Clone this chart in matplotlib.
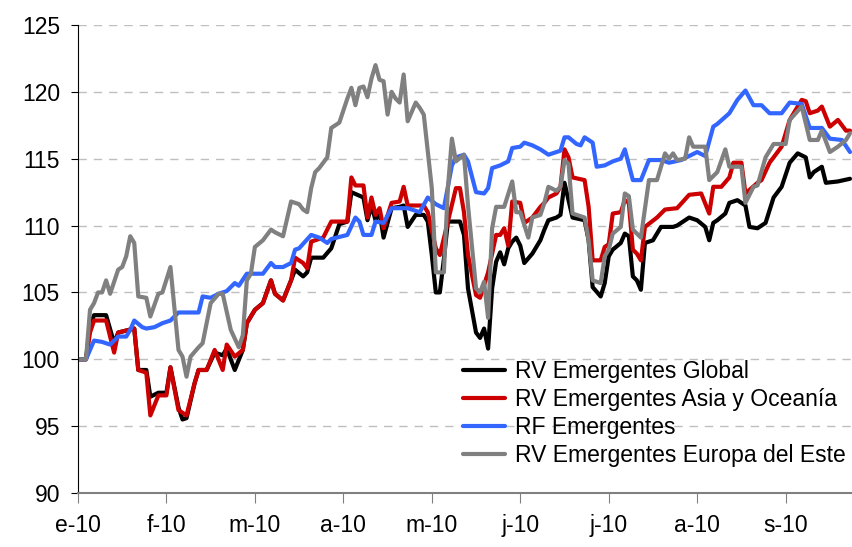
import matplotlib
matplotlib.use("Agg")
import matplotlib.pyplot as plt

plt.rcParams['font.family'] = ['Liberation Sans', 'DejaVu Sans']

# trading-day index (0 = start of January 2010) and index levels (base 100)
month_labels = ["e-10", "f-10", "m-10", "a-10", "m-10", "j-10", "j-10", "a-10", "s-10"]
days_per_month = 22

global_days = [0, 2, 3, 4, 7, 9, 10, 14, 15, 17, 18, 20, 22, 23, 25, 26, 27, 29, 30, 32, 34, 36, 37, 39, 41,
               42, 44, 46, 48, 49, 51, 53, 54, 56, 57, 58, 61, 63, 65, 67, 68, 71, 72, 73, 74, 75, 76, 78, 80,
               81, 82, 84, 85, 86, 87, 88, 89, 90, 91, 92, 95, 96, 97, 99, 100, 101, 102, 103, 104, 105, 106,
               107, 108, 109, 110, 111, 113, 115, 116, 117, 119, 120, 121, 122, 123, 126, 127, 128, 130, 131,
               132, 133, 135, 136, 137, 138, 139, 140, 141, 143, 145, 148, 149, 152, 154, 156, 157, 158, 159,
               161, 162, 164, 166, 167, 169, 171, 173, 175, 177, 179, 181, 182, 183, 185, 186, 189, 192]
global_vals = [100, 100, 102.5, 103.3, 103.3, 101.2, 102.0, 102.3, 99.2, 99.2, 97.2, 97.5, 97.5, 99.4, 96.4,
               95.5, 95.6, 98.2, 99.2, 99.2, 100.5, 100.3, 100.8, 99.2, 100.7, 102.7, 103.7, 104.2, 105.9,
               104.9, 104.4, 105.9, 106.7, 106.2, 106.5, 107.6, 107.6, 108.3, 110.1, 110.3, 112.5, 112.1,
               110.4, 111.5, 110.4, 111.0, 109.1, 111.3, 111.4, 111.5, 109.9, 110.8, 110.8, 110.8, 110.3,
               107.8, 105.0, 105.0, 107.5, 110.3, 110.3, 109.3, 105.3, 102.0, 101.6, 102.3, 100.8, 105.3,
               107.3, 108.0, 107.1, 108.3, 108.8, 109.1, 108.5, 107.2, 107.9, 108.9, 109.7, 110.4, 110.6,
               110.8, 113.2, 111.9, 110.6, 110.4, 108.9, 105.4, 104.7, 105.7, 107.7, 108.2, 108.7, 109.4,
               109.2, 106.2, 105.9, 105.2, 108.7, 108.9, 109.9, 109.9, 110.0, 110.6, 110.4, 109.9, 108.9,
               110.2, 110.4, 110.9, 111.7, 111.9, 111.5, 109.9, 109.8, 110.2, 112.1, 112.9, 114.7, 115.4,
               115.1, 113.6, 114.0, 114.4, 113.2, 113.3, 113.5]

asia_days = [0, 2, 3, 4, 7, 9, 10, 14, 15, 17, 18, 20, 22, 23, 25, 27, 29, 30, 32, 34, 36, 37, 39, 41, 42,
             44, 46, 48, 49, 51, 53, 54, 56, 57, 58, 61, 63, 67, 68, 69, 71, 72, 73, 74, 75, 76, 78, 80, 81,
             82, 86, 87, 89, 90, 92, 94, 95, 96, 97, 99, 100, 102, 104, 105, 106, 107, 108, 110, 111, 113,
             115, 116, 117, 119, 120, 121, 122, 123, 126, 127, 128, 130, 131, 132, 133, 135, 136, 137, 138,
             139, 140, 141, 144, 146, 149, 152, 155, 157, 158, 160, 162, 163, 165, 166, 169, 170, 172, 175,
             177, 180, 181, 182, 184, 185, 187, 189, 191, 192]
asia_vals = [100, 100, 102.0, 102.9, 102.9, 100.5, 102.0, 102.3, 99.2, 99.0, 95.8, 97.3, 97.3, 99.4, 96.2,
             95.8, 98.2, 99.2, 99.2, 100.7, 99.2, 101.1, 100.2, 100.7, 102.7, 103.7, 104.2, 105.9, 104.9,
             104.4, 105.9, 107.6, 107.2, 106.8, 108.8, 109.1, 110.3, 110.3, 113.6, 113.0, 113.0, 110.6,
             112.1, 110.8, 111.3, 109.8, 111.7, 111.8, 112.9, 111.5, 111.5, 111.0, 108.3, 107.8, 110.3,
             112.8, 112.8, 111.0, 107.8, 104.8, 104.6, 106.5, 109.3, 109.3, 109.8, 108.5, 111.8, 111.7,
             110.2, 110.6, 111.4, 111.7, 112.1, 112.4, 112.9, 115.7, 115.1, 113.6, 113.4, 111.4, 107.4,
             107.4, 108.4, 108.6, 110.9, 111.0, 111.9, 111.7, 108.2, 107.9, 107.4, 109.9, 110.6, 111.2,
             111.3, 112.3, 112.4, 110.9, 112.9, 112.9, 113.6, 114.7, 114.7, 112.4, 113.2, 113.4, 114.7,
             115.9, 117.9, 119.4, 119.3, 118.4, 118.6, 118.9, 117.4, 117.9, 117.1, 117.1]

rf_days = [0, 2, 4, 6, 8, 10, 12, 13, 14, 16, 17, 19, 21, 23, 25, 28, 30, 31, 33, 35, 37, 39, 40, 42, 46,
           48, 49, 51, 53, 54, 55, 58, 60, 62, 63, 67, 69, 70, 71, 73, 74, 76, 78, 82, 85, 87, 89, 91, 93,
           94, 96, 97, 99, 101, 102, 103, 105, 107, 108, 110, 111, 113, 115, 117, 119, 120, 121, 122, 124,
           125, 126, 128, 129, 131, 133, 135, 136, 138, 140, 142, 145, 147, 150, 154, 156, 158, 159, 162,
           164, 166, 168, 170, 172, 175, 177, 180, 182, 185, 187, 190, 192]
rf_vals = [100, 100, 101.4, 101.3, 101.1, 101.7, 101.7, 102.2, 102.9, 102.4, 102.3, 102.4, 102.7, 102.9,
           103.5, 103.5, 103.5, 104.7, 104.6, 104.9, 105.1, 105.7, 105.5, 106.4, 106.4, 107.2, 106.9, 106.9,
           107.2, 108.2, 108.3, 109.3, 109.1, 108.7, 109.0, 109.3, 110.6, 110.3, 109.3, 109.3, 110.3, 110.2,
           111.3, 111.3, 111.0, 112.1, 111.6, 111.3, 114.5, 115.1, 115.3, 114.8, 112.5, 112.4, 112.8, 114.3,
           114.5, 114.8, 115.8, 115.9, 116.2, 116.0, 115.7, 115.3, 115.5, 115.6, 116.6, 116.6, 116.1, 116.0,
           116.6, 116.2, 114.4, 114.5, 114.8, 115.0, 115.7, 113.4, 113.4, 114.9, 114.9, 114.7, 114.9, 115.5,
           115.2, 117.4, 117.6, 118.4, 119.4, 120.1, 119.0, 119.0, 118.4, 118.4, 119.2, 119.1, 117.3, 117.3,
           116.5, 116.4, 115.5]

europe_days = [0, 2, 3, 4, 5, 6, 7, 8, 10, 11, 12, 13, 14, 15, 17, 18, 20, 21, 23, 25, 26, 27, 28, 30, 31,
               33, 35, 36, 38, 40, 41, 42, 43, 44, 46, 48, 49, 51, 53, 55, 56, 57, 58, 59, 60, 62, 63, 65,
               67, 68, 69, 70, 71, 72, 73, 74, 75, 76, 77, 78, 79, 80, 81, 82, 84, 85, 86, 88, 89, 91, 92,
               93, 94, 96, 97, 99, 100, 101, 102, 103, 104, 106, 108, 109, 110, 112, 113, 115, 116, 117, 119,
               120, 121, 122, 123, 126, 127, 128, 130, 131, 132, 133, 135, 136, 137, 138, 139, 140, 142, 144,
               146, 147, 148, 149, 151, 152, 153, 156, 157, 159, 161, 162, 165, 166, 168, 169, 171, 173, 176,
               177, 180, 182, 184, 185, 187, 189, 191, 192]
europe_vals = [100, 100, 103.7, 104.2, 105.0, 105.0, 105.9, 104.9, 106.7, 106.9, 107.7, 109.2, 108.7, 104.7,
               104.6, 103.2, 104.9, 105.0, 106.9, 100.7, 100.2, 98.7, 100.2, 100.9, 101.2, 104.2, 104.9,
               104.9, 102.2, 100.9, 101.8, 105.9, 106.4, 108.4, 108.9, 109.7, 109.5, 109.2, 111.8, 111.6,
               111.2, 111.0, 112.8, 114.0, 114.3, 115.1, 117.3, 117.7, 119.5, 120.3, 119.0, 120.3, 120.4,
               119.6, 121.0, 122.0, 120.9, 120.8, 118.3, 120.0, 119.5, 119.2, 121.3, 117.8, 119.2, 118.8,
               118.3, 112.8, 106.5, 106.5, 112.8, 116.5, 114.8, 115.3, 111.5, 105.3, 105.0, 105.8, 103.1,
               109.8, 111.4, 111.4, 113.3, 111.0, 111.0, 109.1, 110.6, 110.8, 111.7, 112.9, 112.6, 112.9,
               114.9, 114.6, 110.9, 110.6, 108.9, 105.9, 105.7, 107.7, 108.2, 109.4, 109.9, 112.4, 112.2,
               109.7, 109.4, 109.1, 113.4, 113.4, 115.4, 115.0, 115.4, 114.9, 115.0, 116.6, 115.9, 115.9,
               113.4, 114.0, 115.7, 114.4, 114.4, 111.7, 112.9, 113.0, 115.1, 116.1, 116.1, 117.9, 118.9,
               116.4, 116.4, 117.1, 115.5, 115.9, 116.4, 116.9]

fig = plt.figure(figsize=(8.52, 5.47), dpi=100)
ax = fig.add_axes([0.0915, 0.0987, 0.9085, 0.8556])

line_kw = dict(lw=3, solid_joinstyle='round', solid_capstyle='round')
ax.plot(global_days, global_vals, color='#000000', label='RV Emergentes Global', **line_kw)
ax.plot(asia_days, asia_vals, color='#CC0000', label='RV Emergentes Asia y Oceanía', **line_kw)
ax.plot(rf_days, rf_vals, color='#3366FF', label='RF Emergentes', **line_kw)
ax.plot(europe_days, europe_vals, color='#808080', label='RV Emergentes Europa del Este', **line_kw)

ax.set_ylim(90, 125)
ax.set_xlim(0, 192.5)
ax.set_yticks(range(90, 126, 5))
ax.set_xticks([i * days_per_month for i in range(len(month_labels))])
ax.set_xticklabels(month_labels)

for v in range(95, 126, 5):
    ax.axhline(v, color='#BFBFBF', lw=1, ls=(0, (6, 5)), zorder=0)

for s in ['top', 'right']:
    ax.spines[s].set_visible(False)
ax.spines['left'].set_color('#000000')
ax.spines['bottom'].set_color('#808080')
ax.spines['bottom'].set_linewidth(1.5)
ax.tick_params(axis='y', direction='out', length=5, labelsize=16.5, pad=8)
ax.tick_params(axis='x', direction='out', length=7, labelsize=16.5, pad=8, color='#808080')

ax.legend(loc='upper left', bbox_to_anchor=(0.497, 0.285), frameon=False, fontsize=16.5,
          borderpad=0, borderaxespad=0, handlelength=1.85, handletextpad=0.45, labelspacing=0.22)

fig.savefig('out.png', dpi=100)
